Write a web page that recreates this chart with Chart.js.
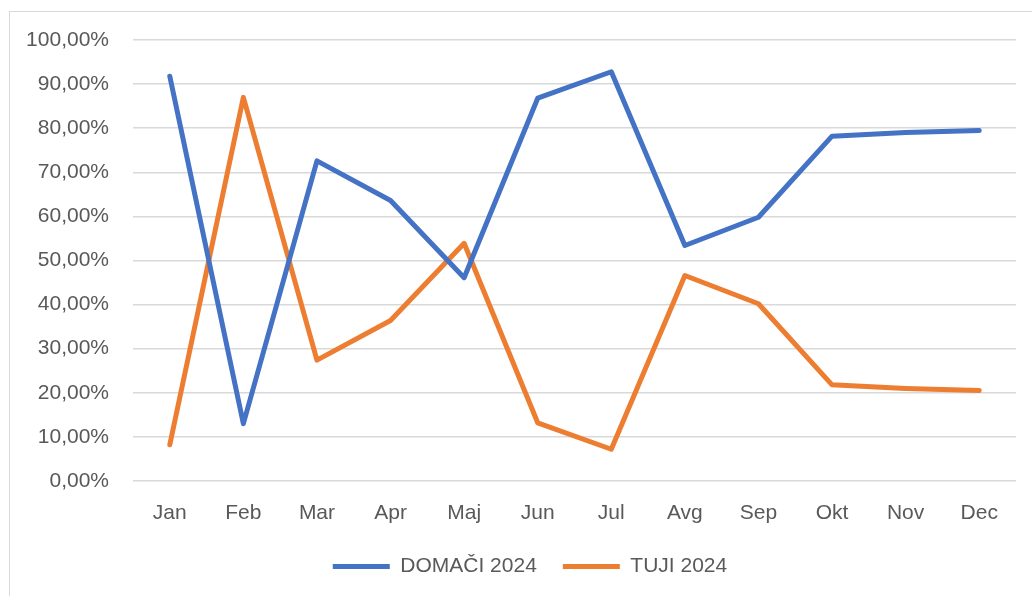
<!DOCTYPE html>
<html>
<head>
<meta charset="utf-8">
<script src="https://cdn.jsdelivr.net/npm/chart.js@4"></script>
<style>
html,body{margin:0;padding:0;background:#fff;}
#wrap{position:relative;width:1032px;height:596px;overflow:hidden;}
#frame{position:absolute;left:9px;top:11px;width:1040px;height:600px;border:1px solid #d9d9d9;box-sizing:border-box;}
#c{position:absolute;left:0;top:0;}
</style>
</head>
<body>
<div id="wrap">
<div id="frame"></div>
<canvas id="c" width="1032" height="596"></canvas>
</div>
<script>
const categories = ['Jan','Feb','Mar','Apr','Maj','Jun','Jul','Avg','Sep','Okt','Nov','Dec'];
const domaci2024 = [91.8, 13.0, 72.6, 63.6, 46.1, 86.8, 92.8, 53.4, 59.8, 78.2, 79.0, 79.5];
const tuji2024 = [8.2, 87.0, 27.4, 36.4, 53.9, 13.2, 7.2, 46.6, 40.2, 21.8, 21.0, 20.5];
const seriesNames = ['DOMAČI 2024', 'TUJI 2024'];
const yTicks = [0,10,20,30,40,50,60,70,80,90,100];

const FONT = "'Liberation Sans', Arial, sans-serif";
const textColor = '#595959';

const shiftLegend = {
  id: 'shiftLegend',
  afterLayout(chart) {
    if (chart.legend) { chart.legend.left += 44; }
  }
};

new Chart(document.getElementById('c'), {
  type: 'line',
  data: {
    labels: categories,
    datasets: [
      { label: seriesNames[0], data: domaci2024, borderColor: '#4472C4', backgroundColor: '#4472C4',
        borderWidth: 5, pointRadius: 0, tension: 0, borderCapStyle: 'round', borderJoinStyle: 'round' },
      { label: seriesNames[1], data: tuji2024, borderColor: '#ED7D31', backgroundColor: '#ED7D31',
        borderWidth: 5, pointRadius: 0, tension: 0, borderCapStyle: 'round', borderJoinStyle: 'round' }
    ]
  },
  plugins: [shiftLegend],
  options: {
    responsive: false,
    animation: false,
    devicePixelRatio: 1,
    layout: { padding: { top: 40, right: 16, left: 0, bottom: 9 } },
    plugins: {
      tooltip: { enabled: false },
      legend: {
        position: 'bottom',
        labels: {
          usePointStyle: true,
          pointStyle: 'line',
          pointStyleWidth: 57,
          boxHeight: 5,
          padding: 26,
          color: textColor,
          font: { family: FONT, size: 21 }
        }
      }
    },
    scales: {
      x: {
        offset: true,
        grid: { display: false, drawTicks: false },
        border: { display: false },
        ticks: { color: textColor, font: { family: FONT, size: 21 }, padding: 20, maxRotation: 0 },
        afterFit: s => { s.height = 49; }
      },
      y: {
        min: 0, max: 100,
        afterBuildTicks: s => { s.ticks = yTicks.map(v => ({ value: v })); },
        grid: { color: '#d9d9d9', lineWidth: 1.5, drawTicks: false },
        border: { display: false },
        ticks: {
          color: textColor, font: { family: FONT, size: 21 }, padding: 24,
          callback: v => v.toFixed(2).replace('.', ',') + '%'
        },
        afterFit: s => { s.width = 133; }
      }
    }
  }
});
</script>
</body>
</html>
